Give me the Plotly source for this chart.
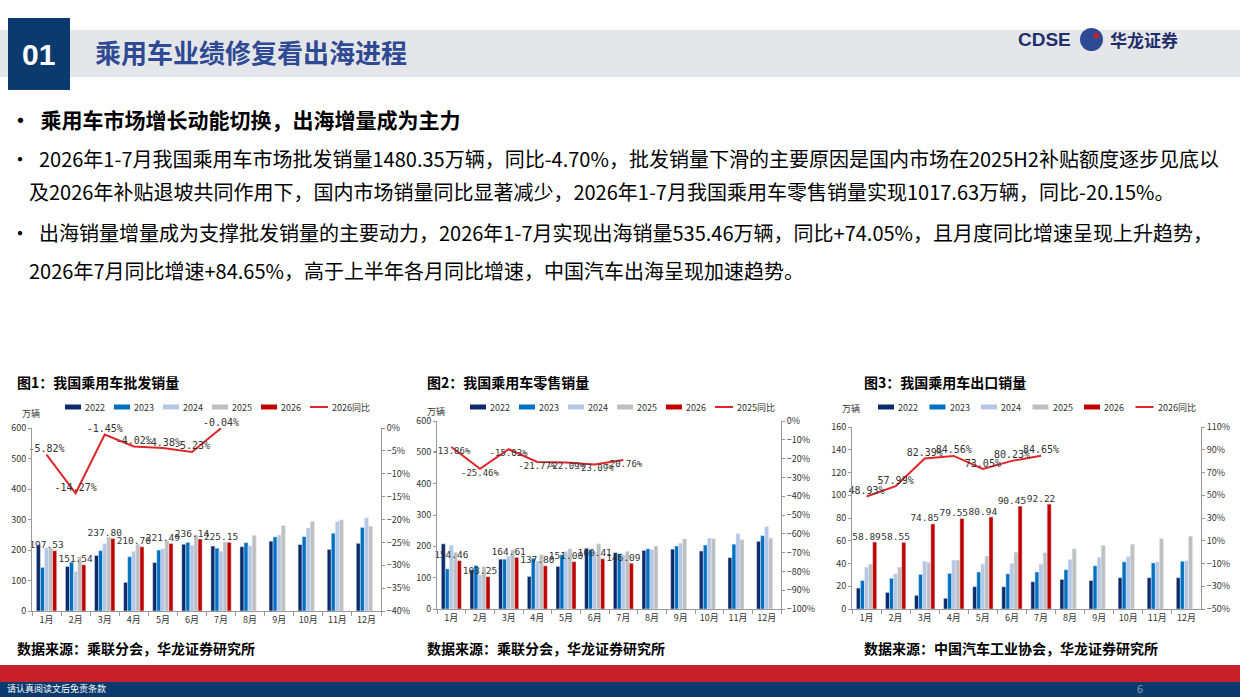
import plotly.graph_objects as go

W, H = 1240, 697
months = [f"{i}月" for i in range(1, 13)]
years = ["2022", "2023", "2024", "2025", "2026"]
colors = ["#0d2a6b", "#0070c0", "#b4c7e7", "#bfbfbf", "#c00000"]
line_color = "#e0262b"

# Chart 1: wholesale
ws_2022 = [216, 146, 182, 94, 159, 219, 213, 211, 229, 218, 202, 222]
ws_2023 = [143, 160, 198, 178, 200, 225, 206, 224, 243, 244, 255, 274]
ws_2024 = [207, 130, 221, 196, 204, 216, 196, 214, 249, 272, 293, 306]
ws_2025 = [207, 178, 242, 219, 231, 249, 226, 248, 280, 294, 299, 278]
ws_2026 = [197.53, 151.54, 237.80, 210.70, 221.49, 236.14, 225.15]
ws_yoy = [-5.82, -14.27, -1.45, -4.02, -4.38, -5.23, -0.04]

# Chart 2: retail
rt_2022 = [208, 125, 159, 104, 136, 194, 180, 187, 191, 185, 164, 216]
rt_2023 = [128, 139, 159, 162, 173, 189, 177, 192, 201, 204, 207, 234]
rt_2024 = [204, 109, 169, 153, 184, 184, 173, 190, 210, 226, 241, 263]
rt_2025 = [181, 136, 189, 173, 192, 208, 184, 201, 224, 224, 221, 226]
rt_2026 = [154.46, 103.25, 164.61, 137.80, 151.00, 160.41, 146.09]
rt_yoy = [-13.86, -25.46, -15.03, -21.77, -22.09, -23.09, -20.76]

# Chart 3: exports
ex_2022 = [18.4, 14.6, 12, 9.4, 19.6, 19.6, 24, 26, 25, 27.5, 27.5, 27.5]
ex_2023 = [25, 27, 30.4, 31.3, 32.5, 31, 32.5, 34.5, 38, 41.5, 40.5, 42]
ex_2024 = [36.8, 31, 42, 43, 39.5, 40, 39.5, 43.5, 45.5, 46, 41.5, 42.5]
ex_2025 = [39.5, 36.8, 41, 43, 46.5, 50, 49.5, 53, 56, 57, 62, 64]
ex_2026 = [58.89, 58.55, 74.85, 79.55, 80.94, 90.45, 92.22]
ex_yoy = [48.93, 57.99, 82.39, 84.56, 73.05, 80.23, 84.65]

charts = [
    dict(data=[ws_2022, ws_2023, ws_2024, ws_2025, ws_2026], yoy=ws_yoy, yoyname="2026同比",
         px=(32, 381), py=(428, 611), y1=[0, 600], d1=100, y2=[-40, 0], d2=5, t2=-40, lpos="top center",
         leg_x=65, leg_step=49, lfs=10),
    dict(data=[rt_2022, rt_2023, rt_2024, rt_2025, rt_2026], yoy=rt_yoy, yoyname="2025同比",
         px=(437, 781), py=(421, 609), y1=[0, 600], d1=100, y2=[-100, 0], d2=10, t2=-100, lpos="bottom center",
         leg_x=470, leg_step=49, lfs=9),
    dict(data=[ex_2022, ex_2023, ex_2024, ex_2025, ex_2026], yoy=ex_yoy, yoyname="2026同比",
         px=(852, 1201), py=(427, 609), y1=[0, 160], d1=20, y2=[-50, 110], d2=20, t2=-50, lpos="top center",
         leg_x=878, leg_step=51.5, lfs=10),
]

def ann(x, y, text, size, color="#000", bold=False, anchor="left", family="Noto Sans CJK SC"):
    return dict(xref="paper", yref="paper", x=x / W, y=1 - y / H, text=f"<b>{text}</b>" if bold else text,
                showarrow=False, xanchor=anchor, yanchor="middle",
                font=dict(size=size, color=color, family=family))

fig = go.Figure()
layout = {}
shapes = []
anns = []
for ci, c in enumerate(charts):
    n = ci + 1
    xa = "x" if n == 1 else f"x{n}"
    ya = f"y{2*ci+1}" if ci > 0 else "y"
    yb = f"y{2*ci+2}"
    for k, (yr, col) in enumerate(zip(years, colors)):
        vals = c["data"][k]
        fig.add_trace(go.Bar(
            x=months[:len(vals)], y=vals, name=yr, marker_color=col, xaxis=xa, yaxis=ya, showlegend=False,
        ))
        lx = c["leg_x"] + k * c["leg_step"]
        shapes.append(dict(type="rect", xref="paper", yref="paper", x0=lx / W, x1=(lx + 16) / W,
                           y0=1 - 409.5 / H, y1=1 - 404.5 / H, fillcolor=col, line_width=0))
        anns.append(ann(lx + 18, 407, yr, 9, "#333"))
    v26 = c["data"][4]
    fig.add_trace(go.Scatter(
        x=months[:len(v26)], y=v26, mode="text", text=[f"{v:.2f}" for v in v26], textposition="top center",
        xaxis=xa, yaxis=ya, showlegend=False, cliponaxis=False,
        textfont=dict(size=9.5, color="#333", family="DejaVu Sans Mono"),
    ))
    fig.add_trace(go.Scatter(
        x=months[:len(c["yoy"])], y=c["yoy"], name=c["yoyname"], mode="lines+text",
        line=dict(color=line_color, width=2), xaxis=xa, yaxis=yb, showlegend=False,
        text=[f"{v:.2f}%" for v in c["yoy"]], textposition=c["lpos"], cliponaxis=False,
        textfont=dict(size=c["lfs"], color="#333", family="DejaVu Sans Mono"),
    ))
    lx = c["leg_x"] + 5 * c["leg_step"]
    shapes.append(dict(type="line", xref="paper", yref="paper", x0=lx / W, x1=(lx + 18) / W,
                       y0=1 - 407 / H, y1=1 - 407 / H, line=dict(color=line_color, width=2)))
    anns.append(ann(lx + 20, 407, c["yoyname"], 9, "#333"))

    x0, x1 = c["px"][0] / W, c["px"][1] / W
    yt, ybm = 1 - c["py"][0] / H, 1 - c["py"][1] / H
    xkey = "xaxis" if n == 1 else f"xaxis{n}"
    y1key = "yaxis" if ci == 0 else f"yaxis{2*ci+1}"
    y2key = f"yaxis{2*ci+2}"
    layout[xkey] = dict(domain=[x0, x1], anchor=ya, showline=True, linecolor="#999",
                        ticks="outside", tickson="boundaries", ticklen=4, tickcolor="#999", tickangle=0,
                        tickfont=dict(size=9, color="#333"), categoryorder="array", categoryarray=months,
                        range=[-0.5, 11.5], type="category")
    layout[y1key] = dict(domain=[ybm, yt], anchor=xa, range=c["y1"], dtick=c["d1"], showgrid=False,
                         showline=True, linecolor="#999", ticks="outside", ticklen=3, tickcolor="#999",
                         tickfont=dict(size=9, color="#333"), zeroline=False)
    layout[y2key] = dict(overlaying=ya, side="right", anchor=xa, range=c["y2"], dtick=c["d2"], tick0=c["t2"],
                         showgrid=False, showline=True, linecolor="#999", ticks="outside", ticklen=3,
                         tickcolor="#999", ticksuffix="%", tickfont=dict(size=9, color="#333"), zeroline=False)

fig.update_layout(**layout)

shapes += [
    dict(type="rect", xref="paper", yref="paper", x0=0, x1=1, y0=1 - 77 / H, y1=1 - 30 / H,
         fillcolor="#e4e6ea", line_width=0, layer="below"),
    dict(type="rect", xref="paper", yref="paper", x0=8 / W, x1=70 / W, y0=1 - 90 / H, y1=1 - 18 / H,
         fillcolor="#0b3a6e", line_width=0),
    dict(type="rect", xref="paper", yref="paper", x0=0, x1=1, y0=1 - 682 / H, y1=1 - 665 / H,
         fillcolor="#c8202a", line_width=0),
    dict(type="rect", xref="paper", yref="paper", x0=0, x1=1, y0=0, y1=1 - 682 / H,
         fillcolor="#0b3a6e", line_width=0),
    dict(type="circle", xref="paper", yref="paper", x0=1080 / W, x1=1103 / W, y0=1 - 51 / H, y1=1 - 28 / H,
         fillcolor="#2e4a94", line_width=0),
    dict(type="rect", xref="paper", yref="paper", x0=1094 / W, x1=1099 / W, y0=1 - 38 / H, y1=1 - 33 / H,
         fillcolor="#c8202a", line_width=0),
]

anns += [
    ann(39, 54, "01", 30, "white", True, "center", "Liberation Sans"),
    ann(93, 52, "乘用车业绩修复看出海进程", 26, "#2e4a94", True),
    ann(1016, 40, "CDSE", 19, "#1f2f6b", True, family="Liberation Sans"),
    ann(1108, 40, "华龙证券", 17, "#1f2f6b", True),
    ann(8, 119, "•  乘用车市场增长动能切换，出海增量成为主力", 21, "#000", True),
    ann(8, 158, "•  2026年1-7月我国乘用车市场批发销量1480.35万辆，同比-4.70%，批发销量下滑的主要原因是国内市场在2025H2补贴额度逐步见底以", 20),
    ann(27, 192, "及2026年补贴退坡共同作用下，国内市场销量同比显著减少，2026年1-7月我国乘用车零售销量实现1017.63万辆，同比-20.15%。", 20),
    ann(8, 233, "•  出海销量增量成为支撑批发销量的主要动力，2026年1-7月实现出海销量535.46万辆，同比+74.05%，且月度同比增速呈现上升趋势，", 20),
    ann(27, 270, "2026年7月同比增速+84.65%，高于上半年各月同比增速，中国汽车出海呈现加速趋势。", 20),
    ann(15, 382, "图1：我国乘用车批发销量", 14, bold=True),
    ann(425, 382, "图2：我国乘用车零售销量", 14, bold=True),
    ann(862, 382, "图3：我国乘用车出口销量", 14, bold=True),
    ann(20, 413, "万辆", 9, "#333"),
    ann(425, 411, "万辆", 9, "#333"),
    ann(840, 408, "万辆", 9, "#333"),
    ann(15, 648, "数据来源：乘联分会，华龙证券研究所", 14, bold=True),
    ann(425, 648, "数据来源：乘联分会，华龙证券研究所", 14, bold=True),
    ann(862, 648, "数据来源：中国汽车工业协会，华龙证券研究所", 14, bold=True),
    ann(5, 688, "请认真阅读文后免责条款", 9, "white"),
    ann(1140, 688, "6", 11, "#8a9bb8", anchor="center"),
]

fig.update_layout(width=W, height=H, autosize=False, margin=dict(l=0, r=0, t=0, b=0, autoexpand=False),
                  showlegend=False,
                  paper_bgcolor="white", plot_bgcolor="white", barmode="group", bargap=0.3, bargroupgap=0,
                  font=dict(family="Noto Sans CJK SC"), shapes=shapes, annotations=anns)
fig.write_html("out.html", config={"displayModeBar": False},
               post_script="document.body.style.margin='0';document.body.style.overflow='hidden';")
